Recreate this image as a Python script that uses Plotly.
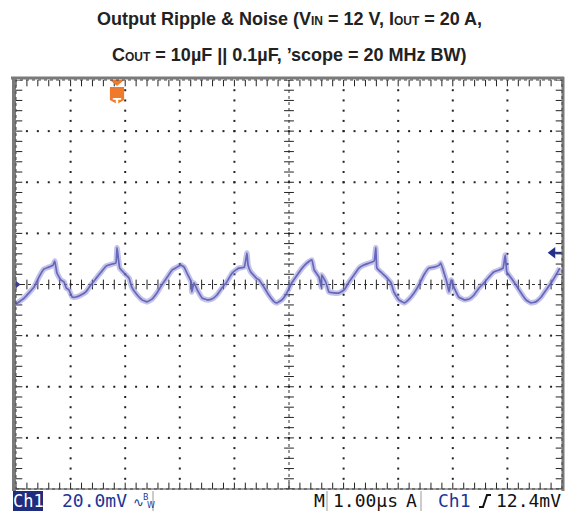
import numpy as np
import plotly.graph_objects as go

# ---------------- data ----------------
time_us = [
    0.00, 0.15, 0.33, 0.42, 0.51, 0.60, 0.68, 0.71, 0.75, 0.82, 0.88, 0.92, 0.97,
    1.03, 1.10, 1.19, 1.28, 1.37, 1.47, 1.56, 1.65, 1.76, 1.83, 1.85, 1.90, 1.98,
    2.07, 2.12, 2.22, 2.31, 2.40, 2.49, 2.58, 2.67, 2.77, 2.86, 2.95, 3.02, 3.08,
    3.13, 3.21, 3.22, 3.26, 3.32, 3.41, 3.50, 3.59, 3.68, 3.77, 3.86, 3.96, 4.03,
    4.08, 4.18, 4.23, 4.25, 4.30, 4.40, 4.45, 4.54, 4.63, 4.73, 4.78, 4.87, 4.96,
    5.05, 5.15, 5.24, 5.33, 5.42, 5.46, 5.55, 5.59, 5.60, 5.68, 5.73, 5.82, 5.92,
    6.01, 6.10, 6.19, 6.28, 6.37, 6.47, 6.56, 6.59, 6.61, 6.70, 6.78, 6.87, 6.92,
    7.01, 7.11, 7.20, 7.29, 7.38, 7.47, 7.56, 7.66, 7.75, 7.78, 7.84, 7.89, 7.93,
    7.97, 8.02, 8.11, 8.21, 8.30, 8.39, 8.48, 8.57, 8.66, 8.75, 8.85, 8.92, 8.96,
    8.99, 9.07, 9.12, 9.18, 9.25, 9.34, 9.43, 9.52, 9.62, 9.71, 9.80, 9.89, 9.96,
]
ripple_mv = [
    -7.6, -5.3, -1.0, 2.9, 6.0, 6.8, 7.6, 9.2, 4.5, 1.8, 1.0, -1.4, -2.1,
    -4.9, -4.9, -4.1, -2.9, -0.2, 2.5, 4.9, 7.2, 8.0, 8.4, 14.4, 6.4, 4.5,
    2.5, -1.0, -4.1, -6.0, -6.8, -5.7, -3.3, -0.2, 2.9, 5.7, 6.8, 7.6, 6.8,
    4.5, 1.0, -2.9, 0.6, -2.1, -5.3, -6.0, -5.7, -4.1, -1.4, 1.0, 4.5, 5.7,
    6.4, 6.8, 12.3, 7.6, 4.9, 2.5, 1.8, -1.0, -4.1, -6.8, -7.2, -6.0, -3.3,
    0.6, 3.7, 6.4, 8.4, 9.6, 5.7, 2.9, -1.0, 3.7, 0.6, -2.9, -3.3, -3.3,
    -2.1, 1.0, 3.7, 6.4, 7.6, 8.4, 9.2, 14.4, 6.4, 4.5, 2.9, 0.6, -2.9,
    -6.0, -7.2, -5.7, -3.3, -0.2, 3.7, 6.4, 6.8, 7.6, 8.4, 4.5, 1.0, -2.9,
    1.8, -1.0, -4.9, -6.0, -5.7, -4.1, -1.4, 0.6, 2.9, 4.9, 5.7, 6.4, 11.5,
    4.9, 2.5, 1.0, -1.0, -3.3, -6.0, -7.2, -6.8, -4.9, -2.1, 0.6, 3.7, 6.4,
]
mv_per_div = 20.0
us_per_div = 1.0
n_xdiv = 10
n_ydiv = 8
trigger_time_us = 1.85
trigger_level_mv = 12.4

title_line1 = ("Output Ripple & Noise (V<span style='font-size:12px'>IN</span> = 12 V, "
               "I<span style='font-size:12px'>OUT</span> = 20 A,")
title_line2 = ("C<span style='font-size:12px'>OUT</span> = 10µF || 0.1µF, "
               "’scope = 20 MHz BW)")
status_ch = "Ch1"
status_scale = "20.0mV"
status_time = "1.00µs"
status_trig_src = "Ch1"
status_trig_lvl = "12.4mV"

# ---------------- geometry ----------------
W, H = 572, 513
L, R, T, B = 16, 10, 80, 24
PW, PH = W - L - R, H - T - B
xmax = n_xdiv * us_per_div
ymax = n_ydiv / 2 * mv_per_div


def px(xp):
    return (xp - L) / PW


def py(yp):
    return (H - B - yp) / PH


fig = go.Figure()

# ---- graticule dots ----
minor_x = np.round(np.arange(0, xmax + 1e-9, us_per_div / 5), 3)
minor_y = np.round(np.arange(-ymax, ymax + 1e-9, mv_per_div / 5), 3)
major_x = [i * us_per_div for i in range(1, n_xdiv) if i != n_xdiv // 2]
major_y = [j * mv_per_div for j in range(-n_ydiv // 2 + 1, n_ydiv // 2) if j != 0]

dx, dy = [], []
for xv in major_x:
    for yv in minor_y[1:-1]:
        dx.append(xv); dy.append(yv)
for yv in major_y:
    for xv in minor_x[1:-1]:
        dx.append(xv); dy.append(yv)
fig.add_trace(go.Scatter(x=dx, y=dy, mode="markers", hoverinfo="skip",
                         marker=dict(symbol="square", size=2, color="#222")))

# center cross (dense dotted) + tick marks
xc = n_xdiv / 2 * us_per_div
fig.add_shape(type="line", x0=0, x1=xmax, y0=0, y1=0, xref="x", yref="y",
              line=dict(color="#333", width=1, dash="dot"), layer="below")
fig.add_shape(type="line", x0=xc, x1=xc, y0=-ymax, y1=ymax, xref="x", yref="y",
              line=dict(color="#333", width=1, dash="dot"), layer="below")
fig.add_trace(go.Scatter(x=minor_x, y=[0] * len(minor_x), mode="markers", hoverinfo="skip",
                         marker=dict(symbol="line-ns", size=7, line=dict(width=1, color="#222"))))
fig.add_trace(go.Scatter(x=[xc] * len(minor_y), y=minor_y, mode="markers", hoverinfo="skip",
                         marker=dict(symbol="line-ew", size=7, line=dict(width=1, color="#222"))))
# edge ticks
fig.add_trace(go.Scatter(x=list(minor_x) * 2, y=[ymax] * len(minor_x) + [-ymax] * len(minor_x),
                         mode="markers", hoverinfo="skip",
                         marker=dict(symbol="line-ns", size=9, line=dict(width=1, color="#222"))))
fig.add_trace(go.Scatter(x=[0] * len(minor_y) + [xmax] * len(minor_y), y=list(minor_y) * 2,
                         mode="markers", hoverinfo="skip",
                         marker=dict(symbol="line-ew", size=9, line=dict(width=1, color="#222"))))

# ---- waveform ----
fig.add_trace(go.Scatter(x=time_us, y=ripple_mv, mode="lines", hoverinfo="skip",
                         line=dict(color="rgba(135,135,212,0.5)", width=5.5, shape="spline",
                                   smoothing=0.3)))
fig.add_trace(go.Scatter(x=time_us, y=ripple_mv, mode="lines",
                         line=dict(color="rgba(92,92,182,0.9)", width=1.7, shape="spline",
                                   smoothing=0.3)))

# ---- ground marker (left) and trigger level arrow (right) ----
fig.add_trace(go.Scatter(x=[0.02], y=[0], mode="markers", hoverinfo="skip",
                         marker=dict(symbol="triangle-right", size=7, color="#3a3aa0")))
fig.add_trace(go.Scatter(x=[xmax - 0.17], y=[trigger_level_mv], mode="markers", hoverinfo="skip",
                         marker=dict(symbol="triangle-left", size=10, color="#22308a")))
fig.add_shape(type="line", x0=xmax - 0.17, x1=xmax, y0=trigger_level_mv, y1=trigger_level_mv,
              xref="x", yref="y", line=dict(color="#22308a", width=2))

# ---- trigger position marker (top, orange) ----
orange = "#f07a2c"
tw = 0.13
fig.add_shape(type="path", xref="x", yref="paper",
              path=f"M {trigger_time_us - tw},{py(80)} L {trigger_time_us + tw},{py(80)} "
                   f"L {trigger_time_us},{py(86)} Z",
              fillcolor=orange, line=dict(width=0))
fig.add_shape(type="path", xref="x", yref="paper",
              path=f"M {trigger_time_us - tw},{py(87)} L {trigger_time_us + tw},{py(87)} "
                   f"L {trigger_time_us + tw},{py(100)} L {trigger_time_us},{py(104)} "
                   f"L {trigger_time_us - tw},{py(100)} Z",
              fillcolor=orange, line=dict(width=0))
fig.add_annotation(x=trigger_time_us, y=py(94.5), xref="x", yref="paper", text="<b>T</b>",
                   showarrow=False, font=dict(family="DejaVu Sans", size=12, color="white"))

# ---- frame ----
gray = "#7a7a7a"
fig.add_shape(type="line", xref="paper", yref="paper", x0=px(11), x1=px(564), y0=py(78), y1=py(78),
              line=dict(color=gray, width=3))
fig.add_shape(type="line", xref="paper", yref="paper", x0=px(14), x1=px(14), y0=py(77), y1=py(491),
              line=dict(color=gray, width=4))
fig.add_shape(type="line", xref="paper", yref="paper", x0=px(563), x1=px(563), y0=py(77), y1=py(491),
              line=dict(color=gray, width=3))
fig.add_shape(type="rect", xref="paper", yref="paper", x0=0, x1=1, y0=0, y1=1,
              line=dict(color="#444", width=1, dash="dot"))
fig.add_shape(type="line", xref="paper", yref="paper", x0=0, x1=1, y0=0, y1=0,
              line=dict(color="#444", width=1))

# ---- status bar ----
yb0, yb1 = py(491), py(511)
ymid = py(501)
fig.add_shape(type="rect", xref="paper", yref="paper", x0=px(13), x1=px(43), y0=yb0, y1=yb1,
              fillcolor="#1f2d7e", line=dict(width=0))
for xs in (153, 327, 421):
    fig.add_shape(type="line", xref="paper", yref="paper", x0=px(xs), x1=px(xs), y0=yb0, y1=yb1,
                  line=dict(color="#999", width=1))
mono = "DejaVu Sans Mono"
blue_txt = "#1c3596"
fig.add_annotation(x=px(28), y=ymid, xref="paper", yref="paper", text=status_ch, showarrow=False,
                   font=dict(family=mono, size=17, color="white"), xanchor="center", yanchor="middle")
fig.add_annotation(x=px(60), y=ymid, xref="paper", yref="paper", text=status_scale, showarrow=False,
                   font=dict(family=mono, size=18, color=blue_txt), xanchor="left", yanchor="middle")
fig.add_annotation(x=px(131), y=py(502), xref="paper", yref="paper", text="∿", showarrow=False,
                   font=dict(family="DejaVu Sans", size=13, color=blue_txt), xanchor="left", yanchor="middle")
fig.add_annotation(x=px(141), y=py(497), xref="paper", yref="paper", text="B", showarrow=False,
                   font=dict(family="DejaVu Sans", size=8, color=blue_txt), xanchor="left", yanchor="middle")
fig.add_annotation(x=px(145), y=py(505), xref="paper", yref="paper", text="W", showarrow=False,
                   font=dict(family="DejaVu Sans", size=8, color=blue_txt), xanchor="left", yanchor="middle")
fig.add_annotation(x=px(319), y=ymid, xref="paper", yref="paper", text="M", showarrow=False,
                   font=dict(family=mono, size=18, color="#111"), xanchor="center", yanchor="middle")
fig.add_annotation(x=px(331), y=ymid, xref="paper", yref="paper", text=status_time, showarrow=False,
                   font=dict(family=mono, size=18, color="#111"), xanchor="left", yanchor="middle")
fig.add_annotation(x=px(411), y=ymid, xref="paper", yref="paper", text="A", showarrow=False,
                   font=dict(family=mono, size=18, color="#111"), xanchor="center", yanchor="middle")
fig.add_annotation(x=px(436), y=ymid, xref="paper", yref="paper", text=status_trig_src, showarrow=False,
                   font=dict(family=mono, size=18, color=blue_txt), xanchor="left", yanchor="middle")
fig.add_shape(type="path", xref="paper", yref="paper",
              path=f"M {px(479)},{py(507)} L {px(483)},{py(507)} L {px(487)},{py(495)} L {px(491)},{py(495)}",
              line=dict(color="#111", width=2))
fig.add_annotation(x=px(563), y=ymid, xref="paper", yref="paper", text=status_trig_lvl, showarrow=False,
                   font=dict(family=mono, size=18, color="#111"), xanchor="right", yanchor="middle")

# ---- title ----
tfont = dict(family="Liberation Sans, Arial", size=18, color="#222")
fig.add_annotation(x=0.5, y=py(19), xref="paper", yref="paper", text=f"<b>{title_line1}</b>",
                   showarrow=False, font=tfont, xanchor="center", yanchor="middle")
fig.add_annotation(x=0.5, y=py(55), xref="paper", yref="paper", text=f"<b>{title_line2}</b>",
                   showarrow=False, font=tfont, xanchor="center", yanchor="middle")

fig.update_xaxes(range=[0, xmax], showgrid=False, zeroline=False, showticklabels=False,
                 ticks="", showline=False, fixedrange=True)
fig.update_yaxes(range=[-ymax, ymax], showgrid=False, zeroline=False, showticklabels=False,
                 ticks="", showline=False, fixedrange=True)
fig.update_layout(width=W, height=H, margin=dict(l=L, r=R, t=T, b=B),
                  plot_bgcolor="white", paper_bgcolor="white", showlegend=False)

fig.write_html("out.html", config={"displayModeBar": False},
               post_script="document.body.style.margin='0';document.body.style.overflow='hidden';")
